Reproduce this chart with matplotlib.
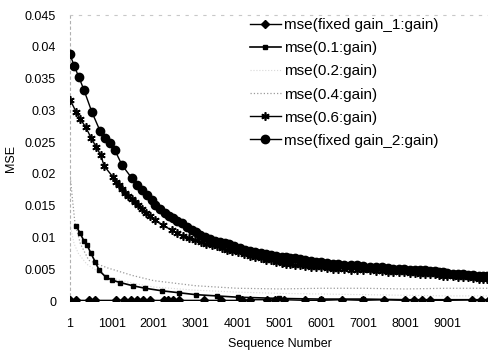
import matplotlib
matplotlib.use("Agg")
import matplotlib.pyplot as plt

plt.rcParams['font.family'] = ['Liberation Sans', 'DejaVu Sans']

# ---- data ----
x_ticks = [1, 1001, 2001, 3001, 4001, 5001, 6001, 7001, 8001, 9001]
y_ticks = [0, 0.005, 0.01, 0.015, 0.02, 0.025, 0.03, 0.035, 0.04, 0.045]
y_tick_labels = ["0", "0.005", "0.01", "0.015", "0.02", "0.025", "0.03", "0.035", "0.04", "0.045"]

fg1_x = [1, 150, 450, 600, 1100, 1300, 1450, 1600, 1750, 1900, 2250, 2350, 2450, 2600,
         3200, 3600, 4100, 4300, 4700, 4900, 5100, 5600, 6000, 6500, 7000, 7500, 8000,
         8200, 8400, 8600, 9000, 9600, 9800, 10000]
fg1_y = [0.0001, 0.0001, 0.0001, 0.0001, 0.0001, 0.0001, 0.0001, 0.0001, 0.0001, 0.0001,
         0.0001, 0.0001, 0.0001, 0.0001, 0.0001, 0.0001, 0.0001, 0.0002, 0.0002, 0.0001,
         0.0002, 0.0001, 0.0001, 0.0002, 0.0001, 0.0002, 0.0001, 0.0002, 0.0002, 0.0001,
         0.0001, 0.0002, 0.0002, 0.0002]

g01_x = [150, 240, 330, 410, 500, 600, 700, 850, 1000, 1200, 1500, 1800, 2200, 2600,
         3000, 3500, 4000, 5000, 6000, 7000, 8000, 9000, 10000]
g01_y = [0.0118, 0.0107, 0.0095, 0.0088, 0.0075, 0.0062, 0.0048, 0.0038, 0.0033, 0.0029,
         0.0024, 0.0020, 0.0016, 0.0013, 0.0010, 0.0008, 0.0006, 0.0004, 0.0003, 0.0003,
         0.0002, 0.0002, 0.0002]

g02_x = [1, 100, 200, 400, 700, 1000, 1500, 2000, 3000, 4000, 5000, 6000, 7000, 8000, 9000, 10000]
g02_y = [0.0120, 0.0090, 0.0075, 0.0058, 0.0045, 0.0036, 0.0028, 0.0022, 0.0017, 0.0014,
         0.0012, 0.0011, 0.0010, 0.0009, 0.0008, 0.0008]

g04_x = [1, 60, 120, 250, 450, 700, 900, 1500, 2000, 3000, 4000, 5000, 6000, 7000, 8000, 9000, 10000]
g04_y = [0.0200, 0.0160, 0.0122, 0.0090, 0.0064, 0.0057, 0.0052, 0.0040, 0.0032, 0.0024,
         0.0020, 0.0019, 0.0020, 0.0020, 0.0019, 0.0020, 0.0020]

g06_x = [1, 143, 239, 382, 501, 621, 740, 811, 1026, 1100, 1170, 1240, 1313, 1390, 1470,
         1545, 1623, 1720, 1820, 1920, 2029, 2230, 2434, 2560, 2700, 2840, 2983, 3120,
         3250, 3380, 3500, 3620, 3750, 3870, 4000, 4150, 4296, 4420, 4550, 4680, 4800,
         4920, 5050, 5150, 5250, 5380, 5500, 5620, 5750, 5870, 6000, 6134, 6270, 6400,
         6550, 6700, 6850, 7000, 7150, 7300, 7450, 7600, 7720, 7850, 7980, 8115, 8230,
         8350, 8480, 8600, 8700, 8800, 8900, 9000, 9130, 9250, 9380, 9500, 9620, 9750,
         9850, 9950]
g06_y = [0.0317, 0.0298, 0.0287, 0.0273, 0.0257, 0.0243, 0.0229, 0.0213, 0.0195, 0.0188,
         0.0182, 0.0176, 0.0170, 0.0165, 0.0160, 0.0155, 0.0151, 0.0145, 0.0139, 0.0133,
         0.0127, 0.0119, 0.0111, 0.0107, 0.0103, 0.0099, 0.0096, 0.0093, 0.0090, 0.0088,
         0.0086, 0.0083, 0.0081, 0.0079, 0.0077, 0.0074, 0.0071, 0.0069, 0.0067, 0.0065,
         0.0064, 0.0062, 0.0060, 0.0059, 0.0058, 0.0057, 0.0056, 0.0055, 0.0054, 0.0053,
         0.0053, 0.0052, 0.0051, 0.0051, 0.0050, 0.0049, 0.0049, 0.0048, 0.0048, 0.0047,
         0.0047, 0.0046, 0.0046, 0.0045, 0.0045, 0.0044, 0.0044, 0.0043, 0.0043, 0.0042,
         0.0042, 0.0041, 0.0040, 0.0039, 0.0039, 0.0038, 0.0037, 0.0037, 0.0036, 0.0035,
         0.0034, 0.0034]

fg2_x = [1, 100, 215, 334, 525, 716, 835, 955, 1074, 1241, 1480, 1600, 1718, 1838, 1957,
         2029, 2150, 2267, 2360, 2458, 2560, 2673, 2790, 2912, 3000, 3100, 3220, 3350,
         3460, 3580, 3700, 3800, 3920, 4050, 4170, 4296, 4420, 4550, 4680, 4800, 4920,
         5050, 5150, 5250, 5380, 5500, 5620, 5750, 5870, 6000, 6134, 6270, 6400, 6550,
         6700, 6850, 7000, 7150, 7300, 7450, 7600, 7720, 7850, 7980, 8115, 8230, 8350,
         8480, 8600, 8700, 8800, 8900, 9000, 9130, 9250, 9380, 9500, 9620, 9750, 9850, 9950]
fg2_y = [0.0388, 0.0370, 0.0352, 0.0332, 0.0297, 0.0268, 0.0256, 0.0248, 0.0237, 0.0214,
         0.0193, 0.0182, 0.0174, 0.0166, 0.0159, 0.0151, 0.0145, 0.0138, 0.0134, 0.0130,
         0.0126, 0.0122, 0.0116, 0.0111, 0.0108, 0.0104, 0.0101, 0.0098, 0.0095, 0.0093,
         0.0091, 0.0089, 0.0086, 0.0084, 0.0081, 0.0079, 0.0077, 0.0076, 0.0074, 0.0073,
         0.0071, 0.0070, 0.0069, 0.0068, 0.0067, 0.0066, 0.0064, 0.0063, 0.0062, 0.0061,
         0.0060, 0.0059, 0.0058, 0.0057, 0.0056, 0.0056, 0.0055, 0.0054, 0.0053, 0.0053,
         0.0052, 0.0051, 0.0050, 0.0050, 0.0049, 0.0049, 0.0048, 0.0048, 0.0047, 0.0047,
         0.0046, 0.0045, 0.0044, 0.0043, 0.0043, 0.0042, 0.0041, 0.0041, 0.0040, 0.0039,
         0.0039]

labels = ["mse(fixed gain_1:gain)", "mse(0.1:gain)", "mse(0.2:gain)",
          "mse(0.4:gain)", "mse(0.6:gain)", "mse(fixed gain_2:gain)"]

# ---- figure ----
fig = plt.figure(figsize=(4.89, 3.51), dpi=100)
ax = fig.add_axes([70 / 489, 50 / 351, 419 / 489, 286 / 351])

ax.plot(g02_x, g02_y, color="#d8d8d8", lw=0.8, ls=":", label=labels[2], zorder=2)
ax.plot(g04_x, g04_y, color="#9a9a9a", lw=0.9, ls=":", label=labels[3], zorder=2)
ax.plot(g01_x, g01_y, color="black", lw=1.2, marker="s", ms=3.5, label=labels[1], zorder=3)
ax.plot(fg1_x, fg1_y, color="black", lw=1.0, marker="D", ms=4, label=labels[0], zorder=4)
ax.plot(g06_x, g06_y, color="black", lw=1.0, marker=(6, 2, 0), ms=6, mew=1.2,
        label=labels[4], zorder=4)
ax.plot(fg2_x, fg2_y, color="black", lw=1.0, marker="o", ms=6, label=labels[5], zorder=5)

ax.set_xlim(1, 10000)
ax.set_ylim(0, 0.045)
ax.set_xticks(x_ticks)
ax.set_xticklabels([str(v) for v in x_ticks])
ax.set_yticks(y_ticks)
ax.set_yticklabels(y_tick_labels)
ax.tick_params(length=0, labelsize=9, pad=10)
ax.tick_params(axis='x', pad=12)

for s in ["right", "bottom"]:
    ax.spines[s].set_visible(False)
ax.spines["left"].set_color("#b0b0b0")
ax.spines["left"].set_linestyle((0, (2, 3)))
ax.spines["top"].set_color("#c8c8c8")
ax.spines["top"].set_linestyle((0, (2, 6)))

ax.set_xlabel("Sequence Number", fontsize=9, labelpad=6)
ax.set_ylabel("MSE", fontsize=9, labelpad=6)

h, l = ax.get_legend_handles_labels()
hd = dict(zip(l, h))
leg = fig.legend([hd[x] for x in labels], labels, loc="upper left",
                 bbox_to_anchor=(250 / 489, 1 - 18 / 351), frameon=False,
                 fontsize=11, handlelength=2.0, handletextpad=0.2,
                 labelspacing=0.6, borderpad=0, borderaxespad=0)

fig.savefig("out.png", dpi=100, facecolor="white")
